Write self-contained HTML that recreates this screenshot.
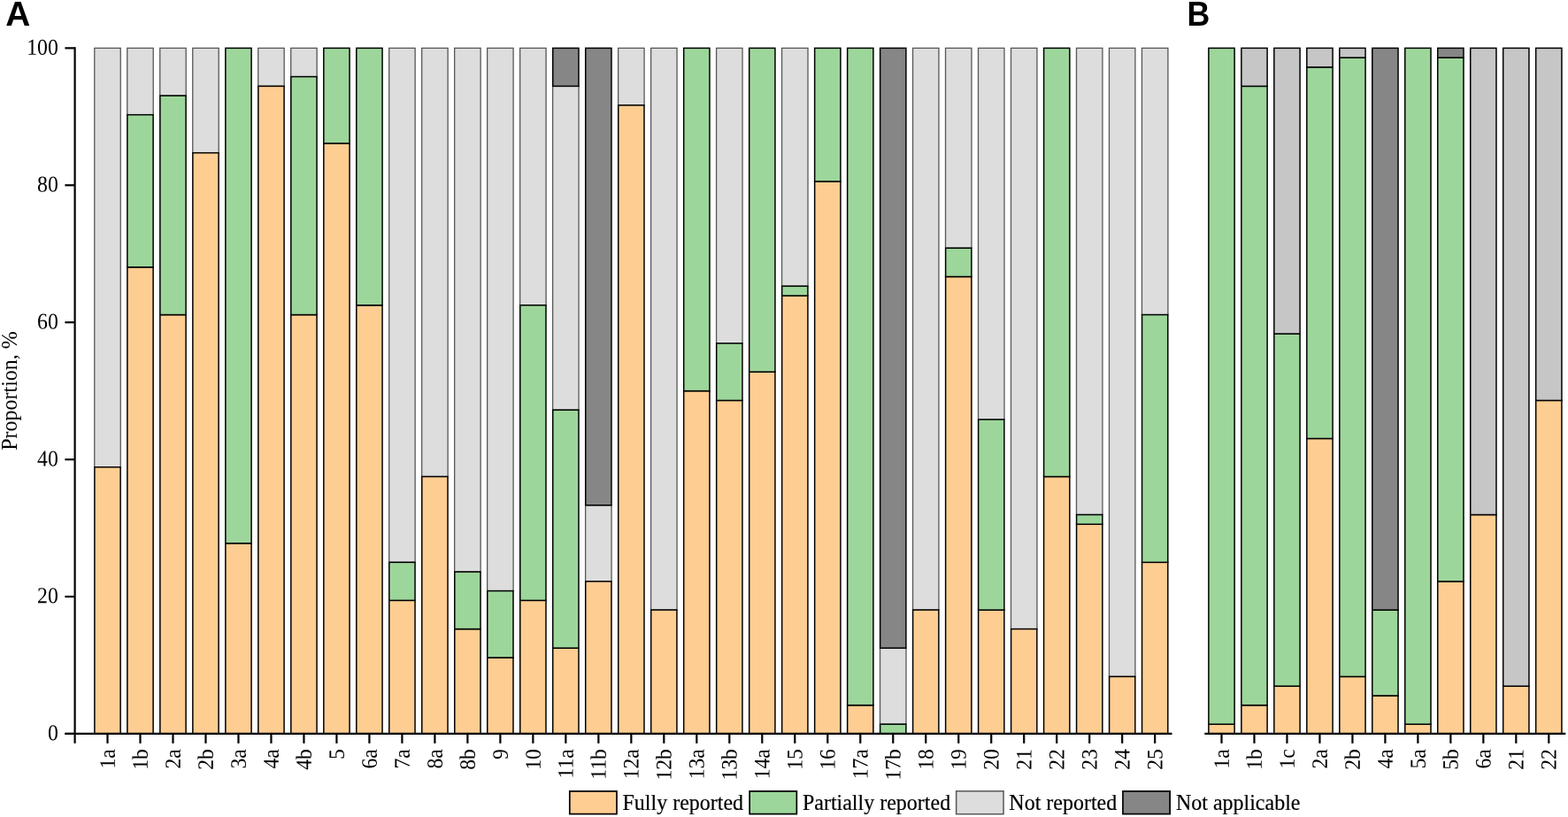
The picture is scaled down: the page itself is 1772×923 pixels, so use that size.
<!DOCTYPE html>
<html lang="en"><head><meta charset="utf-8"><title>Figure</title>
<style>html,body{margin:0;padding:0;background:#fff;}body{width:1772px;height:923px;overflow:hidden;}svg{display:block;}text{font-family:"Liberation Serif","Times New Roman",serif;font-size:25.4px;fill:#000;stroke:#000;stroke-width:0.2px;}text.r{stroke:none;}text.pl{stroke:none;font-family:"Liberation Sans",Arial,sans-serif;font-weight:bold;font-size:38.8px;}</style></head><body>
<svg width="1772" height="923" viewBox="0 0 1772 923">
<rect x="0" y="0" width="1772" height="923" fill="#fff"/>
<rect x="106.78" y="54.35" width="29.45" height="473.37" fill="#DDDDDD" stroke="#575757" stroke-width="1.30"/>
<rect x="106.88" y="527.72" width="29.25" height="301.23" fill="#FECD92" stroke="#000" stroke-width="1.50"/>
<rect x="143.77" y="54.35" width="29.45" height="75.31" fill="#DDDDDD" stroke="#575757" stroke-width="1.30"/>
<rect x="143.87" y="301.79" width="29.25" height="527.16" fill="#FECD92" stroke="#000" stroke-width="1.50"/>
<rect x="143.87" y="129.66" width="29.25" height="172.13" fill="#9DD69B" stroke="#000" stroke-width="1.50"/>
<rect x="180.76" y="54.35" width="29.45" height="53.79" fill="#DDDDDD" stroke="#575757" stroke-width="1.30"/>
<rect x="180.86" y="355.58" width="29.25" height="473.37" fill="#FECD92" stroke="#000" stroke-width="1.50"/>
<rect x="180.86" y="108.14" width="29.25" height="247.44" fill="#9DD69B" stroke="#000" stroke-width="1.50"/>
<rect x="217.75" y="54.35" width="29.45" height="118.34" fill="#DDDDDD" stroke="#575757" stroke-width="1.30"/>
<rect x="217.84" y="172.69" width="29.25" height="656.26" fill="#FECD92" stroke="#000" stroke-width="1.50"/>
<rect x="254.84" y="613.78" width="29.25" height="215.17" fill="#FECD92" stroke="#000" stroke-width="1.50"/>
<rect x="254.84" y="54.35" width="29.25" height="559.43" fill="#9DD69B" stroke="#000" stroke-width="1.50"/>
<rect x="291.73" y="54.35" width="29.45" height="43.03" fill="#DDDDDD" stroke="#575757" stroke-width="1.30"/>
<rect x="291.83" y="97.38" width="29.25" height="731.57" fill="#FECD92" stroke="#000" stroke-width="1.50"/>
<rect x="328.71" y="54.35" width="29.45" height="32.27" fill="#DDDDDD" stroke="#575757" stroke-width="1.30"/>
<rect x="328.81" y="355.58" width="29.25" height="473.37" fill="#FECD92" stroke="#000" stroke-width="1.50"/>
<rect x="328.81" y="86.62" width="29.25" height="268.96" fill="#9DD69B" stroke="#000" stroke-width="1.50"/>
<rect x="365.81" y="161.93" width="29.25" height="667.02" fill="#FECD92" stroke="#000" stroke-width="1.50"/>
<rect x="365.81" y="54.35" width="29.25" height="107.58" fill="#9DD69B" stroke="#000" stroke-width="1.50"/>
<rect x="402.80" y="344.83" width="29.25" height="484.12" fill="#FECD92" stroke="#000" stroke-width="1.50"/>
<rect x="402.80" y="54.35" width="29.25" height="290.48" fill="#9DD69B" stroke="#000" stroke-width="1.50"/>
<rect x="439.69" y="54.35" width="29.45" height="580.95" fill="#DDDDDD" stroke="#575757" stroke-width="1.30"/>
<rect x="439.79" y="678.33" width="29.25" height="150.62" fill="#FECD92" stroke="#000" stroke-width="1.50"/>
<rect x="439.79" y="635.30" width="29.25" height="43.03" fill="#9DD69B" stroke="#000" stroke-width="1.50"/>
<rect x="476.68" y="54.35" width="29.45" height="484.12" fill="#DDDDDD" stroke="#575757" stroke-width="1.30"/>
<rect x="476.78" y="538.48" width="29.25" height="290.48" fill="#FECD92" stroke="#000" stroke-width="1.50"/>
<rect x="513.67" y="54.35" width="29.45" height="591.71" fill="#DDDDDD" stroke="#575757" stroke-width="1.30"/>
<rect x="513.77" y="710.61" width="29.25" height="118.34" fill="#FECD92" stroke="#000" stroke-width="1.50"/>
<rect x="513.77" y="646.06" width="29.25" height="64.55" fill="#9DD69B" stroke="#000" stroke-width="1.50"/>
<rect x="550.65" y="54.35" width="29.45" height="613.23" fill="#DDDDDD" stroke="#575757" stroke-width="1.30"/>
<rect x="550.75" y="742.88" width="29.25" height="86.07" fill="#FECD92" stroke="#000" stroke-width="1.50"/>
<rect x="550.75" y="667.58" width="29.25" height="75.31" fill="#9DD69B" stroke="#000" stroke-width="1.50"/>
<rect x="587.64" y="54.35" width="29.45" height="290.48" fill="#DDDDDD" stroke="#575757" stroke-width="1.30"/>
<rect x="587.75" y="678.33" width="29.25" height="150.62" fill="#FECD92" stroke="#000" stroke-width="1.50"/>
<rect x="587.75" y="344.83" width="29.25" height="333.51" fill="#9DD69B" stroke="#000" stroke-width="1.50"/>
<rect x="624.63" y="97.38" width="29.45" height="365.78" fill="#DDDDDD" stroke="#575757" stroke-width="1.30"/>
<rect x="624.74" y="732.12" width="29.25" height="96.83" fill="#FECD92" stroke="#000" stroke-width="1.50"/>
<rect x="624.74" y="463.17" width="29.25" height="268.96" fill="#9DD69B" stroke="#000" stroke-width="1.50"/>
<rect x="624.74" y="54.35" width="29.25" height="43.03" fill="#868686" stroke="#000" stroke-width="1.50"/>
<rect x="661.62" y="570.75" width="29.45" height="86.07" fill="#DDDDDD" stroke="#575757" stroke-width="1.30"/>
<rect x="661.73" y="656.82" width="29.25" height="172.13" fill="#FECD92" stroke="#000" stroke-width="1.50"/>
<rect x="661.73" y="54.35" width="29.25" height="516.40" fill="#868686" stroke="#000" stroke-width="1.50"/>
<rect x="698.62" y="54.35" width="29.45" height="64.55" fill="#DDDDDD" stroke="#575757" stroke-width="1.30"/>
<rect x="698.72" y="118.90" width="29.25" height="710.05" fill="#FECD92" stroke="#000" stroke-width="1.50"/>
<rect x="735.61" y="54.35" width="29.45" height="634.74" fill="#DDDDDD" stroke="#575757" stroke-width="1.30"/>
<rect x="735.71" y="689.09" width="29.25" height="139.86" fill="#FECD92" stroke="#000" stroke-width="1.50"/>
<rect x="772.70" y="441.65" width="29.25" height="387.30" fill="#FECD92" stroke="#000" stroke-width="1.50"/>
<rect x="772.70" y="54.35" width="29.25" height="387.30" fill="#9DD69B" stroke="#000" stroke-width="1.50"/>
<rect x="809.59" y="54.35" width="29.45" height="333.51" fill="#DDDDDD" stroke="#575757" stroke-width="1.30"/>
<rect x="809.69" y="452.41" width="29.25" height="376.54" fill="#FECD92" stroke="#000" stroke-width="1.50"/>
<rect x="809.69" y="387.86" width="29.25" height="64.55" fill="#9DD69B" stroke="#000" stroke-width="1.50"/>
<rect x="846.68" y="420.13" width="29.25" height="408.82" fill="#FECD92" stroke="#000" stroke-width="1.50"/>
<rect x="846.68" y="54.35" width="29.25" height="365.78" fill="#9DD69B" stroke="#000" stroke-width="1.50"/>
<rect x="883.57" y="54.35" width="29.45" height="268.96" fill="#DDDDDD" stroke="#575757" stroke-width="1.30"/>
<rect x="883.67" y="334.07" width="29.25" height="494.88" fill="#FECD92" stroke="#000" stroke-width="1.50"/>
<rect x="883.67" y="323.31" width="29.25" height="10.76" fill="#9DD69B" stroke="#000" stroke-width="1.50"/>
<rect x="920.66" y="204.97" width="29.25" height="623.98" fill="#FECD92" stroke="#000" stroke-width="1.50"/>
<rect x="920.66" y="54.35" width="29.25" height="150.62" fill="#9DD69B" stroke="#000" stroke-width="1.50"/>
<rect x="957.65" y="796.68" width="29.25" height="32.27" fill="#FECD92" stroke="#000" stroke-width="1.50"/>
<rect x="957.65" y="54.35" width="29.25" height="742.33" fill="#9DD69B" stroke="#000" stroke-width="1.50"/>
<rect x="994.53" y="732.12" width="29.45" height="86.07" fill="#DDDDDD" stroke="#575757" stroke-width="1.30"/>
<rect x="994.63" y="818.19" width="29.25" height="10.76" fill="#9DD69B" stroke="#000" stroke-width="1.50"/>
<rect x="994.63" y="54.35" width="29.25" height="677.77" fill="#868686" stroke="#000" stroke-width="1.50"/>
<rect x="1031.53" y="54.35" width="29.45" height="634.74" fill="#DDDDDD" stroke="#575757" stroke-width="1.30"/>
<rect x="1031.62" y="689.09" width="29.25" height="139.86" fill="#FECD92" stroke="#000" stroke-width="1.50"/>
<rect x="1068.52" y="54.35" width="29.45" height="225.93" fill="#DDDDDD" stroke="#575757" stroke-width="1.30"/>
<rect x="1068.62" y="312.55" width="29.25" height="516.40" fill="#FECD92" stroke="#000" stroke-width="1.50"/>
<rect x="1068.62" y="280.28" width="29.25" height="32.27" fill="#9DD69B" stroke="#000" stroke-width="1.50"/>
<rect x="1105.51" y="54.35" width="29.45" height="419.58" fill="#DDDDDD" stroke="#575757" stroke-width="1.30"/>
<rect x="1105.61" y="689.09" width="29.25" height="139.86" fill="#FECD92" stroke="#000" stroke-width="1.50"/>
<rect x="1105.61" y="473.93" width="29.25" height="215.17" fill="#9DD69B" stroke="#000" stroke-width="1.50"/>
<rect x="1142.50" y="54.35" width="29.45" height="656.26" fill="#DDDDDD" stroke="#575757" stroke-width="1.30"/>
<rect x="1142.60" y="710.61" width="29.25" height="118.34" fill="#FECD92" stroke="#000" stroke-width="1.50"/>
<rect x="1179.59" y="538.48" width="29.25" height="290.48" fill="#FECD92" stroke="#000" stroke-width="1.50"/>
<rect x="1179.59" y="54.35" width="29.25" height="484.12" fill="#9DD69B" stroke="#000" stroke-width="1.50"/>
<rect x="1216.48" y="54.35" width="29.45" height="527.16" fill="#DDDDDD" stroke="#575757" stroke-width="1.30"/>
<rect x="1216.58" y="592.27" width="29.25" height="236.68" fill="#FECD92" stroke="#000" stroke-width="1.50"/>
<rect x="1216.58" y="581.51" width="29.25" height="10.76" fill="#9DD69B" stroke="#000" stroke-width="1.50"/>
<rect x="1253.47" y="54.35" width="29.45" height="710.05" fill="#DDDDDD" stroke="#575757" stroke-width="1.30"/>
<rect x="1253.57" y="764.40" width="29.25" height="64.55" fill="#FECD92" stroke="#000" stroke-width="1.50"/>
<rect x="1290.46" y="54.35" width="29.45" height="301.23" fill="#DDDDDD" stroke="#575757" stroke-width="1.30"/>
<rect x="1290.56" y="635.30" width="29.25" height="193.65" fill="#FECD92" stroke="#000" stroke-width="1.50"/>
<rect x="1290.56" y="355.58" width="29.25" height="279.72" fill="#9DD69B" stroke="#000" stroke-width="1.50"/>
<rect x="1365.88" y="818.19" width="29.25" height="10.76" fill="#FECD92" stroke="#000" stroke-width="1.50"/>
<rect x="1365.88" y="54.35" width="29.25" height="763.84" fill="#9DD69B" stroke="#000" stroke-width="1.50"/>
<rect x="1402.86" y="796.68" width="29.25" height="32.27" fill="#FECD92" stroke="#000" stroke-width="1.50"/>
<rect x="1402.86" y="97.38" width="29.25" height="699.29" fill="#9DD69B" stroke="#000" stroke-width="1.50"/>
<rect x="1402.86" y="54.35" width="29.25" height="43.03" fill="#C6C6C6" stroke="#000" stroke-width="1.50"/>
<rect x="1439.84" y="775.16" width="29.25" height="53.79" fill="#FECD92" stroke="#000" stroke-width="1.50"/>
<rect x="1439.84" y="377.10" width="29.25" height="398.06" fill="#9DD69B" stroke="#000" stroke-width="1.50"/>
<rect x="1439.84" y="54.35" width="29.25" height="322.75" fill="#C6C6C6" stroke="#000" stroke-width="1.50"/>
<rect x="1476.82" y="495.44" width="29.25" height="333.51" fill="#FECD92" stroke="#000" stroke-width="1.50"/>
<rect x="1476.82" y="75.87" width="29.25" height="419.58" fill="#9DD69B" stroke="#000" stroke-width="1.50"/>
<rect x="1476.82" y="54.35" width="29.25" height="21.52" fill="#C6C6C6" stroke="#000" stroke-width="1.50"/>
<rect x="1513.80" y="764.40" width="29.25" height="64.55" fill="#FECD92" stroke="#000" stroke-width="1.50"/>
<rect x="1513.80" y="65.11" width="29.25" height="699.29" fill="#9DD69B" stroke="#000" stroke-width="1.50"/>
<rect x="1513.80" y="54.35" width="29.25" height="10.76" fill="#C6C6C6" stroke="#000" stroke-width="1.50"/>
<rect x="1550.78" y="785.92" width="29.25" height="43.03" fill="#FECD92" stroke="#000" stroke-width="1.50"/>
<rect x="1550.78" y="689.09" width="29.25" height="96.83" fill="#9DD69B" stroke="#000" stroke-width="1.50"/>
<rect x="1550.78" y="54.35" width="29.25" height="634.74" fill="#868686" stroke="#000" stroke-width="1.50"/>
<rect x="1587.76" y="818.19" width="29.25" height="10.76" fill="#FECD92" stroke="#000" stroke-width="1.50"/>
<rect x="1587.76" y="54.35" width="29.25" height="763.84" fill="#9DD69B" stroke="#000" stroke-width="1.50"/>
<rect x="1624.73" y="656.82" width="29.25" height="172.13" fill="#FECD92" stroke="#000" stroke-width="1.50"/>
<rect x="1624.73" y="65.11" width="29.25" height="591.71" fill="#9DD69B" stroke="#000" stroke-width="1.50"/>
<rect x="1624.73" y="54.35" width="29.25" height="10.76" fill="#868686" stroke="#000" stroke-width="1.50"/>
<rect x="1661.71" y="581.51" width="29.25" height="247.44" fill="#FECD92" stroke="#000" stroke-width="1.50"/>
<rect x="1661.71" y="54.35" width="29.25" height="527.16" fill="#C6C6C6" stroke="#000" stroke-width="1.50"/>
<rect x="1698.69" y="775.16" width="29.25" height="53.79" fill="#FECD92" stroke="#000" stroke-width="1.50"/>
<rect x="1698.69" y="54.35" width="29.25" height="720.81" fill="#C6C6C6" stroke="#000" stroke-width="1.50"/>
<rect x="1735.67" y="452.41" width="29.25" height="376.54" fill="#FECD92" stroke="#000" stroke-width="1.50"/>
<rect x="1735.67" y="54.35" width="29.25" height="398.06" fill="#C6C6C6" stroke="#000" stroke-width="1.50"/>
<g stroke="#000" stroke-width="2.20" fill="none">
<path d="M84.6 53.25 V839.8"/>
<path d="M73.4 828.95 H1324.5"/>
<path d="M73.4 828.95 H84.6"/>
<path d="M73.4 674.03 H84.6"/>
<path d="M73.4 519.11 H84.6"/>
<path d="M73.4 364.19 H84.6"/>
<path d="M73.4 209.27 H84.6"/>
<path d="M73.4 54.35 H84.6"/>
<path d="M121.50 828.95 V839.8"/>
<path d="M158.49 828.95 V839.8"/>
<path d="M195.48 828.95 V839.8"/>
<path d="M232.47 828.95 V839.8"/>
<path d="M269.46 828.95 V839.8"/>
<path d="M306.45 828.95 V839.8"/>
<path d="M343.44 828.95 V839.8"/>
<path d="M380.43 828.95 V839.8"/>
<path d="M417.42 828.95 V839.8"/>
<path d="M454.41 828.95 V839.8"/>
<path d="M491.40 828.95 V839.8"/>
<path d="M528.39 828.95 V839.8"/>
<path d="M565.38 828.95 V839.8"/>
<path d="M602.37 828.95 V839.8"/>
<path d="M639.36 828.95 V839.8"/>
<path d="M676.35 828.95 V839.8"/>
<path d="M713.34 828.95 V839.8"/>
<path d="M750.33 828.95 V839.8"/>
<path d="M787.32 828.95 V839.8"/>
<path d="M824.31 828.95 V839.8"/>
<path d="M861.30 828.95 V839.8"/>
<path d="M898.29 828.95 V839.8"/>
<path d="M935.28 828.95 V839.8"/>
<path d="M972.27 828.95 V839.8"/>
<path d="M1009.26 828.95 V839.8"/>
<path d="M1046.25 828.95 V839.8"/>
<path d="M1083.24 828.95 V839.8"/>
<path d="M1120.23 828.95 V839.8"/>
<path d="M1157.22 828.95 V839.8"/>
<path d="M1194.21 828.95 V839.8"/>
<path d="M1231.20 828.95 V839.8"/>
<path d="M1268.19 828.95 V839.8"/>
<path d="M1305.18 828.95 V839.8"/>
<path d="M1361.3 828.95 H1769.3"/>
<path d="M1380.50 828.95 V839.8"/>
<path d="M1417.48 828.95 V839.8"/>
<path d="M1454.46 828.95 V839.8"/>
<path d="M1491.44 828.95 V839.8"/>
<path d="M1528.42 828.95 V839.8"/>
<path d="M1565.40 828.95 V839.8"/>
<path d="M1602.38 828.95 V839.8"/>
<path d="M1639.36 828.95 V839.8"/>
<path d="M1676.34 828.95 V839.8"/>
<path d="M1713.32 828.95 V839.8"/>
<path d="M1750.30 828.95 V839.8"/>
</g>
<text class="r" style="font-size:25.7px" transform="translate(65.8 836.30) rotate(0.1) scale(0.925 1)" text-anchor="end">0</text>
<text class="r" style="font-size:25.7px" transform="translate(65.8 681.38) rotate(0.1) scale(0.925 1)" text-anchor="end">20</text>
<text class="r" style="font-size:25.7px" transform="translate(65.8 526.46) rotate(0.1) scale(0.925 1)" text-anchor="end">40</text>
<text class="r" style="font-size:25.7px" transform="translate(65.8 371.54) rotate(0.1) scale(0.925 1)" text-anchor="end">60</text>
<text class="r" style="font-size:25.7px" transform="translate(65.8 216.62) rotate(0.1) scale(0.925 1)" text-anchor="end">80</text>
<text class="r" style="font-size:25.7px" transform="translate(65.8 61.70) rotate(0.1) scale(0.925 1)" text-anchor="end">100</text>
<text class="r" transform="translate(18.9 441.5) rotate(-90) scale(0.945 1)" text-anchor="middle">Proportion, %</text>
<text class="r" style="font-size:25px" transform="translate(129.80 846.2) rotate(-89.9) scale(0.945 1)" text-anchor="end">1a</text>
<text class="r" style="font-size:25px" transform="translate(166.79 846.2) rotate(-89.9) scale(0.945 1)" text-anchor="end">1b</text>
<text class="r" style="font-size:25px" transform="translate(203.78 846.2) rotate(-89.9) scale(0.945 1)" text-anchor="end">2a</text>
<text class="r" style="font-size:25px" transform="translate(240.77 846.2) rotate(-89.9) scale(0.945 1)" text-anchor="end">2b</text>
<text class="r" style="font-size:25px" transform="translate(277.76 846.2) rotate(-89.9) scale(0.945 1)" text-anchor="end">3a</text>
<text class="r" style="font-size:25px" transform="translate(314.75 846.2) rotate(-89.9) scale(0.945 1)" text-anchor="end">4a</text>
<text class="r" style="font-size:25px" transform="translate(351.74 846.2) rotate(-89.9) scale(0.945 1)" text-anchor="end">4b</text>
<text class="r" style="font-size:25px" transform="translate(388.73 846.2) rotate(-89.9) scale(0.945 1)" text-anchor="end">5</text>
<text class="r" style="font-size:25px" transform="translate(425.72 846.2) rotate(-89.9) scale(0.945 1)" text-anchor="end">6a</text>
<text class="r" style="font-size:25px" transform="translate(462.71 846.2) rotate(-89.9) scale(0.945 1)" text-anchor="end">7a</text>
<text class="r" style="font-size:25px" transform="translate(499.70 846.2) rotate(-89.9) scale(0.945 1)" text-anchor="end">8a</text>
<text class="r" style="font-size:25px" transform="translate(536.69 846.2) rotate(-89.9) scale(0.945 1)" text-anchor="end">8b</text>
<text class="r" style="font-size:25px" transform="translate(573.68 846.2) rotate(-89.9) scale(0.945 1)" text-anchor="end">9</text>
<text class="r" style="font-size:25px" transform="translate(610.67 846.2) rotate(-89.9) scale(0.945 1)" text-anchor="end">10</text>
<text class="r" style="font-size:25px" transform="translate(647.66 846.2) rotate(-89.9) scale(0.945 1)" text-anchor="end">11a</text>
<text class="r" style="font-size:25px" transform="translate(684.65 846.2) rotate(-89.9) scale(0.945 1)" text-anchor="end">11b</text>
<text class="r" style="font-size:25px" transform="translate(721.64 846.2) rotate(-89.9) scale(0.945 1)" text-anchor="end">12a</text>
<text class="r" style="font-size:25px" transform="translate(758.63 846.2) rotate(-89.9) scale(0.945 1)" text-anchor="end">12b</text>
<text class="r" style="font-size:25px" transform="translate(795.62 846.2) rotate(-89.9) scale(0.945 1)" text-anchor="end">13a</text>
<text class="r" style="font-size:25px" transform="translate(832.61 846.2) rotate(-89.9) scale(0.945 1)" text-anchor="end">13b</text>
<text class="r" style="font-size:25px" transform="translate(869.60 846.2) rotate(-89.9) scale(0.945 1)" text-anchor="end">14a</text>
<text class="r" style="font-size:25px" transform="translate(906.59 846.2) rotate(-89.9) scale(0.945 1)" text-anchor="end">15</text>
<text class="r" style="font-size:25px" transform="translate(943.58 846.2) rotate(-89.9) scale(0.945 1)" text-anchor="end">16</text>
<text class="r" style="font-size:25px" transform="translate(980.57 846.2) rotate(-89.9) scale(0.945 1)" text-anchor="end">17a</text>
<text class="r" style="font-size:25px" transform="translate(1017.56 846.2) rotate(-89.9) scale(0.945 1)" text-anchor="end">17b</text>
<text class="r" style="font-size:25px" transform="translate(1054.55 846.2) rotate(-89.9) scale(0.945 1)" text-anchor="end">18</text>
<text class="r" style="font-size:25px" transform="translate(1091.54 846.2) rotate(-89.9) scale(0.945 1)" text-anchor="end">19</text>
<text class="r" style="font-size:25px" transform="translate(1128.53 846.2) rotate(-89.9) scale(0.945 1)" text-anchor="end">20</text>
<text class="r" style="font-size:25px" transform="translate(1165.52 846.2) rotate(-89.9) scale(0.945 1)" text-anchor="end">21</text>
<text class="r" style="font-size:25px" transform="translate(1202.51 846.2) rotate(-89.9) scale(0.945 1)" text-anchor="end">22</text>
<text class="r" style="font-size:25px" transform="translate(1239.50 846.2) rotate(-89.9) scale(0.945 1)" text-anchor="end">23</text>
<text class="r" style="font-size:25px" transform="translate(1276.49 846.2) rotate(-89.9) scale(0.945 1)" text-anchor="end">24</text>
<text class="r" style="font-size:25px" transform="translate(1313.48 846.2) rotate(-89.9) scale(0.945 1)" text-anchor="end">25</text>
<text class="r" style="font-size:25px" transform="translate(1388.80 846.2) rotate(-89.9) scale(0.945 1)" text-anchor="end">1a</text>
<text class="r" style="font-size:25px" transform="translate(1425.78 846.2) rotate(-89.9) scale(0.945 1)" text-anchor="end">1b</text>
<text class="r" style="font-size:25px" transform="translate(1462.76 846.2) rotate(-89.9) scale(0.945 1)" text-anchor="end">1c</text>
<text class="r" style="font-size:25px" transform="translate(1499.74 846.2) rotate(-89.9) scale(0.945 1)" text-anchor="end">2a</text>
<text class="r" style="font-size:25px" transform="translate(1536.72 846.2) rotate(-89.9) scale(0.945 1)" text-anchor="end">2b</text>
<text class="r" style="font-size:25px" transform="translate(1573.70 846.2) rotate(-89.9) scale(0.945 1)" text-anchor="end">4a</text>
<text class="r" style="font-size:25px" transform="translate(1610.68 846.2) rotate(-89.9) scale(0.945 1)" text-anchor="end">5a</text>
<text class="r" style="font-size:25px" transform="translate(1647.66 846.2) rotate(-89.9) scale(0.945 1)" text-anchor="end">5b</text>
<text class="r" style="font-size:25px" transform="translate(1684.64 846.2) rotate(-89.9) scale(0.945 1)" text-anchor="end">6a</text>
<text class="r" style="font-size:25px" transform="translate(1721.62 846.2) rotate(-89.9) scale(0.945 1)" text-anchor="end">21</text>
<text class="r" style="font-size:25px" transform="translate(1758.60 846.2) rotate(-89.9) scale(0.945 1)" text-anchor="end">22</text>
<text class="pl" x="6.2" y="29">A</text>
<text class="pl" style="font-size:38.2px" transform="translate(1341.6 29) scale(0.935 1)">B</text>
<rect x="643.80" y="893.90" width="53.20" height="25.70" fill="#FECD92" stroke="#000" stroke-width="1.70"/>
<text transform="translate(703.50 914.5) scale(0.945 1)">Fully reported</text>
<rect x="847.15" y="893.90" width="53.20" height="25.70" fill="#9DD69B" stroke="#000" stroke-width="1.70"/>
<text transform="translate(906.90 914.5) scale(0.945 1)">Partially reported</text>
<rect x="1080.65" y="893.80" width="53.40" height="25.90" fill="#DDDDDD" stroke="#575757" stroke-width="1.50"/>
<text transform="translate(1140.30 914.5) scale(0.945 1)">Not reported</text>
<rect x="1268.95" y="893.90" width="53.20" height="25.70" fill="#868686" stroke="#000" stroke-width="1.70"/>
<text transform="translate(1328.90 914.5) scale(0.945 1)">Not applicable</text>
</svg></body></html>
